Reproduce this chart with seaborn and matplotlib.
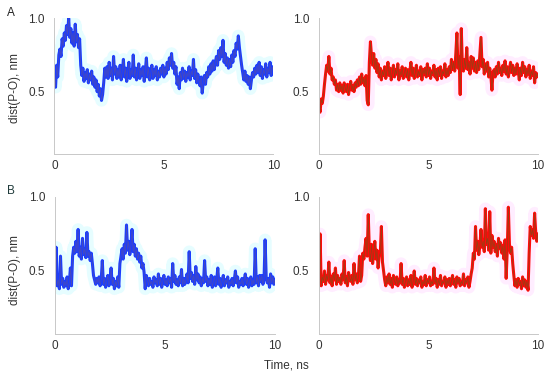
import numpy as np
import pandas as pd
import matplotlib
matplotlib.use("Agg")
import matplotlib.pyplot as plt
from matplotlib.ticker import MultipleLocator
import seaborn as sns

# --- datos (dist P-O en nm, cada 0.05 ns) ---
time_ns = [round(i * 0.05, 2) for i in range(201)]

a_left = [
    0.62, 0.53, 0.68, 0.60, 0.75, 0.79, 0.74, 0.86, 0.81, 0.90, 0.85, 0.95, 0.89, 1.00, 0.87, 0.93, 0.83, 0.90, 0.81, 0.96,
    0.84, 0.89, 0.80, 0.86, 0.68, 0.61, 0.66, 0.57, 0.63, 0.59, 0.65, 0.56, 0.62, 0.58, 0.64, 0.55, 0.60, 0.53, 0.58, 0.50,
    0.55, 0.47, 0.52, 0.44, 0.48, 0.56, 0.66, 0.60, 0.67, 0.59, 0.70, 0.61, 0.66, 0.58, 0.74, 0.62, 0.67, 0.59, 0.65, 0.60,
    0.68, 0.58, 0.64, 0.72, 0.60, 0.66, 0.57, 0.64, 0.70, 0.59, 0.65, 0.61, 0.75, 0.60, 0.66, 0.58, 0.63, 0.69, 0.59, 0.65,
    0.61, 0.67, 0.57, 0.64, 0.73, 0.60, 0.66, 0.58, 0.62, 0.68, 0.59, 0.65, 0.61, 0.67, 0.58, 0.64, 0.60, 0.66, 0.62, 0.68,
    0.60, 0.66, 0.62, 0.70, 0.65, 0.73, 0.68, 0.76, 0.66, 0.70, 0.62, 0.67, 0.55, 0.60, 0.52, 0.63, 0.58, 0.66, 0.59, 0.64,
    0.57, 0.63, 0.60, 0.67, 0.58, 0.64, 0.61, 0.72, 0.59, 0.65, 0.56, 0.62, 0.58, 0.54, 0.60, 0.49, 0.57, 0.61, 0.55, 0.63,
    0.60, 0.67, 0.62, 0.69, 0.64, 0.71, 0.65, 0.70, 0.74, 0.68, 0.78, 0.72, 0.80, 0.74, 0.85, 0.70, 0.76, 0.68, 0.73, 0.66,
    0.72, 0.67, 0.75, 0.70, 0.78, 0.74, 0.83, 0.79, 0.88, 0.80, 0.74, 0.68, 0.63, 0.58, 0.64, 0.57, 0.61, 0.55, 0.60, 0.52,
    0.58, 0.63, 0.60, 0.66, 0.62, 0.68, 0.63, 0.70, 0.61, 0.67, 0.59, 0.65, 0.62, 0.69, 0.60, 0.66, 0.63, 0.70, 0.61, 0.67,
    0.64,
]

a_right = [
    0.40, 0.36, 0.45, 0.42, 0.47, 0.55, 0.62, 0.68, 0.64, 0.74, 0.62, 0.66, 0.58, 0.60, 0.55, 0.58, 0.51, 0.55, 0.50, 0.56,
    0.51, 0.54, 0.49, 0.56, 0.52, 0.50, 0.55, 0.48, 0.53, 0.57, 0.51, 0.54, 0.50, 0.56, 0.53, 0.58, 0.54, 0.60, 0.55, 0.62,
    0.56, 0.59, 0.54, 0.61, 0.44, 0.41, 0.70, 0.84, 0.74, 0.68, 0.76, 0.66, 0.72, 0.63, 0.69, 0.60, 0.66, 0.58, 0.64, 0.61,
    0.67, 0.59, 0.64, 0.70, 0.61, 0.66, 0.58, 0.63, 0.68, 0.60, 0.65, 0.62, 0.69, 0.58, 0.64, 0.61, 0.67, 0.59, 0.63, 0.66,
    0.60, 0.65, 0.58, 0.64, 0.70, 0.61, 0.66, 0.59, 0.63, 0.68, 0.60, 0.64, 0.61, 0.67, 0.58, 0.65, 0.62, 0.66, 0.60, 0.69,
    0.61, 0.66, 0.59, 0.64, 0.62, 0.68, 0.60, 0.65, 0.58, 0.66, 0.61, 0.67, 0.59, 0.64, 0.62, 0.69, 0.60, 0.65, 0.61, 0.67,
    0.63, 0.72, 0.65, 0.70, 0.64, 0.76, 0.90, 0.66, 0.74, 0.48, 0.93, 0.68, 0.64, 0.72, 0.66, 0.80, 0.65, 0.70, 0.62, 0.74,
    0.66, 0.73, 0.64, 0.70, 0.63, 0.71, 0.65, 0.76, 0.87, 0.67, 0.72, 0.62, 0.69, 0.64, 0.70, 0.60, 0.66, 0.61, 0.51, 0.63,
    0.65, 0.60, 0.67, 0.62, 0.70, 0.63, 0.66, 0.61, 0.68, 0.64, 0.71, 0.62, 0.67, 0.60, 0.65, 0.70, 0.63, 0.68, 0.61, 0.66,
    0.62, 0.69, 0.64, 0.58, 0.66, 0.61, 0.70, 0.63, 0.67, 0.60, 0.65, 0.62, 0.68, 0.59, 0.64, 0.61, 0.67, 0.56, 0.63, 0.60,
    0.62,
]

b_left = [
    0.42, 0.66, 0.40, 0.44, 0.38, 0.60, 0.41, 0.45, 0.39, 0.43, 0.40, 0.46, 0.38, 0.42, 0.52, 0.40, 0.60, 0.66, 0.62, 0.70,
    0.63, 0.78, 0.60, 0.66, 0.58, 0.72, 0.61, 0.65, 0.59, 0.76, 0.60, 0.63, 0.57, 0.62, 0.55, 0.47, 0.44, 0.41, 0.45, 0.42,
    0.46, 0.40, 0.44, 0.57, 0.41, 0.45, 0.39, 0.43, 0.47, 0.40, 0.44, 0.52, 0.41, 0.45, 0.38, 0.43, 0.40, 0.46, 0.39, 0.55,
    0.60, 0.65, 0.58, 0.68, 0.62, 0.81, 0.64, 0.70, 0.61, 0.67, 0.78, 0.63, 0.68, 0.60, 0.65, 0.58, 0.62, 0.56, 0.60, 0.52,
    0.55, 0.49, 0.38, 0.47, 0.44, 0.40, 0.45, 0.41, 0.43, 0.39, 0.46, 0.42, 0.44, 0.40, 0.48, 0.41, 0.45, 0.39, 0.43, 0.47,
    0.41, 0.44, 0.40, 0.46, 0.42, 0.45, 0.39, 0.55, 0.43, 0.47, 0.41, 0.44, 0.40, 0.46, 0.42, 0.51, 0.40, 0.45, 0.41, 0.44,
    0.48, 0.42, 0.63, 0.45, 0.49, 0.43, 0.47, 0.41, 0.53, 0.44, 0.48, 0.42, 0.46, 0.40, 0.45, 0.42, 0.57, 0.43, 0.46, 0.40,
    0.44, 0.41, 0.47, 0.39, 0.43, 0.46, 0.40, 0.44, 0.52, 0.41, 0.45, 0.39, 0.43, 0.47, 0.40, 0.44, 0.42, 0.46, 0.39, 0.43,
    0.41, 0.45, 0.40, 0.44, 0.50, 0.42, 0.46, 0.39, 0.43, 0.41, 0.45, 0.40, 0.44, 0.48, 0.41, 0.45, 0.39, 0.43, 0.46, 0.40,
    0.44, 0.41, 0.65, 0.42, 0.46, 0.40, 0.47, 0.43, 0.47, 0.41, 0.44, 0.71, 0.46, 0.42, 0.45, 0.39, 0.48, 0.42, 0.46, 0.41,
    0.44,
]

b_right = [
    0.42, 0.75, 0.40, 0.46, 0.43, 0.50, 0.41, 0.47, 0.44, 0.56, 0.42, 0.46, 0.40, 0.48, 0.44, 0.52, 0.41, 0.47, 0.43, 0.45,
    0.41, 0.48, 0.44, 0.57, 0.42, 0.46, 0.40, 0.49, 0.45, 0.43, 0.47, 0.41, 0.55, 0.44, 0.48, 0.42, 0.46, 0.60, 0.43, 0.47,
    0.62, 0.58, 0.66, 0.72, 0.60, 0.88, 0.64, 0.57, 0.68, 0.55, 0.62, 0.70, 0.58, 0.64, 0.52, 0.60, 0.62, 0.80, 0.56, 0.50,
    0.44, 0.40, 0.46, 0.42, 0.48, 0.41, 0.45, 0.39, 0.47, 0.43, 0.41, 0.46, 0.40, 0.44, 0.42, 0.55, 0.41, 0.45, 0.39, 0.43,
    0.46, 0.40, 0.44, 0.41, 0.47, 0.39, 0.43, 0.50, 0.41, 0.45, 0.40, 0.44, 0.42, 0.46, 0.39, 0.43, 0.41, 0.47, 0.40, 0.44,
    0.42, 0.46, 0.40, 0.43, 0.41, 0.52, 0.42, 0.45, 0.39, 0.44, 0.41, 0.47, 0.40, 0.43, 0.42, 0.46, 0.39, 0.44, 0.41, 0.45,
    0.40, 0.43, 0.47, 0.41, 0.44, 0.39, 0.46, 0.42, 0.45, 0.40, 0.43, 0.41, 0.48, 0.40, 0.44, 0.42, 0.46, 0.39, 0.43, 0.48,
    0.52, 0.62, 0.58, 0.80, 0.64, 0.70, 0.61, 0.67, 0.78, 0.66, 0.70, 0.63, 0.92, 0.68, 0.72, 0.64, 0.90, 0.62, 0.74, 0.66,
    0.70, 0.63, 0.68, 0.60, 0.72, 0.65, 0.69, 0.62, 0.67, 0.58, 0.71, 0.45, 0.64, 0.93, 0.68, 0.62, 0.66, 0.55, 0.47, 0.40,
    0.44, 0.39, 0.45, 0.41, 0.43, 0.38, 0.46, 0.40, 0.44, 0.39, 0.43, 0.37, 0.62, 0.80, 0.74, 0.78, 0.72, 0.89, 0.76, 0.70,
    0.75,
]

x_ticks = [0, 5, 10]
y_ticks = [0.5, 1.0]

# colores: banda principal, trazo oscuro, halo claro
BLUE = ("#1a3dff", "#5a4f9e", "#d6fcff")
RED = ("#ff0a0a", "#6d5418", "#ffe2ff")

sns.set_theme(style="white")
plt.rcParams['font.family'] = ['Liberation Sans', 'DejaVu Sans']

fig = plt.figure(figsize=(5.5, 3.79), dpi=100)

panels = [
    ([0.099, 0.5937, 0.398, 0.358], a_left, BLUE),
    ([0.580, 0.5937, 0.398, 0.358], a_right, RED),
    ([0.100, 0.1187, 0.400, 0.362], b_left, BLUE),
    ([0.580, 0.1187, 0.398, 0.362], b_right, RED),
]

for rect, values, (main_c, dark_c, halo_c) in panels:
    ax = fig.add_axes(rect)
    df = pd.DataFrame({'t': time_ns, 'd': values})
    sns.lineplot(data=df, x='t', y='d', ax=ax, color=halo_c, lw=9, alpha=0.6)
    sns.lineplot(data=df, x='t', y='d', ax=ax, color=main_c, lw=2.2)
    sns.lineplot(data=df, x='t', y='d', ax=ax, color=dark_c, lw=0.5, alpha=0.7)
    ax.set_xlim(0, 10)
    ax.set_ylim(0.075, 1.0)
    ax.set_xticks(x_ticks)
    ax.set_yticks(y_ticks)
    ax.set_yticklabels(['0.5', '1.0'])
    ax.xaxis.set_minor_locator(MultipleLocator(1))
    ax.yaxis.set_minor_locator(MultipleLocator(0.1))
    ax.tick_params(axis='both', which='both', direction='in', length=2.5,
                   width=0.6, color='#c8c8c8', labelsize=8.5, labelcolor='#333333')
    ax.tick_params(axis='x', pad=4)
    ax.tick_params(axis='y', pad=7)
    ax.set_xlabel('')
    ax.set_ylabel('')
    for side in ['top', 'right']:
        ax.spines[side].set_visible(False)
    for side in ['left', 'bottom']:
        ax.spines[side].set_color('#c8c8c8')
        ax.spines[side].set_linewidth(0.7)

fig.text(11 / 550, 1 - 12.5 / 379, 'A', fontsize=8.5, color='#222222', ha='center', va='center')
fig.text(11 / 550, 1 - 191 / 379, 'B', fontsize=8.5, color='#1f3a3a', ha='center', va='center')
fig.text(15 / 550, 1 - 88 / 379, 'dist(P-O), nm', fontsize=8.5, color='#333333',
         rotation=90, ha='center', va='center')
fig.text(15 / 550, 1 - 270 / 379, 'dist(P-O), nm', fontsize=8.5, color='#333333',
         rotation=90, ha='center', va='center')
fig.text(286 / 550, 1 - 366 / 379, 'Time, ns', fontsize=8.5, color='#333333',
         ha='center', va='center')

fig.savefig('out.png', dpi=100)
